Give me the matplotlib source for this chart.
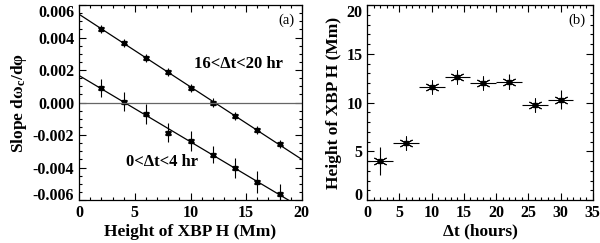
import numpy as np
import matplotlib
matplotlib.use("Agg")
import matplotlib.pyplot as plt
from matplotlib.ticker import MultipleLocator

plt.rcParams['font.family'] = 'Liberation Serif'
plt.rcParams['font.weight'] = 'bold'
plt.rcParams['mathtext.fontset'] = 'custom'
plt.rcParams['mathtext.rm'] = 'Liberation Serif:bold'
plt.rcParams['mathtext.it'] = 'Liberation Serif:bold:italic'

# panel (a): slope vs height
height = [2, 4, 6, 8, 10, 12, 14, 16, 18]
slope_late = [0.00455, 0.00367, 0.00275, 0.00188, 0.00092, 0.0, -0.00082, -0.00169, -0.00257]
err_late = [0.00025, 0.00025, 0.00025, 0.00025, 0.00025, 0.00025, 0.00025, 0.00025, 0.00025]
slope_early = [0.00088, 0.00006, -0.00072, -0.00185, -0.00236, -0.0032, -0.00404, -0.00489, -0.00564]
err_early = [0.00055, 0.0006, 0.0006, 0.0006, 0.0006, 0.00055, 0.0006, 0.00065, 0.0006]

# panel (b): height vs time
dt = [2, 6, 10, 14, 18, 22, 26, 30]
dt_err = [2, 2, 2, 2, 2, 2, 2, 2]
xbp_h = [4.0, 5.8, 11.6, 12.6, 12.05, 12.15, 9.7, 10.3]
xbp_err = [1.45, 0.65, 0.5, 0.5, 0.55, 0.75, 0.7, 1.0]

fig = plt.figure(figsize=(6, 2.43), dpi=100)
ax1 = fig.add_axes([0.132, 0.177, 0.371, 0.802])
ax2 = fig.add_axes([0.612, 0.177, 0.376, 0.802])

fs = 11.5

def style(ax):
    ax.tick_params(which='both', direction='in', top=True, right=True, labelsize=fs, width=0.8)
    ax.tick_params(which='major', length=5)
    ax.tick_params(which='minor', length=2.5)
    for s in ax.spines.values():
        s.set_linewidth(0.9)

def star(ax, x, y, ms):
    ax.plot(x, y, ls='none', marker=(6, 2, 0), ms=ms, mew=0.7, color='k')
    ax.plot(x, y, ls='none', marker='s', ms=2.5, color='k')

# (a)
xx = np.array([0, 20])
for y, e in [(slope_late, err_late), (slope_early, err_early)]:
    p = np.polyfit(height, y, 1)
    ax1.plot(xx, np.polyval(p, xx), color='k', lw=0.9)
    ax1.errorbar(height, y, yerr=e, fmt='none', ecolor='k', elinewidth=0.8)
    star(ax1, height, y, 5)
ax1.axhline(0, color='0.4', lw=0.9)
ax1.set_xlim(0, 20)
ax1.set_ylim(-0.006, 0.006)
ax1.xaxis.set_major_locator(MultipleLocator(5))
ax1.xaxis.set_minor_locator(MultipleLocator(1))
ax1.yaxis.set_major_locator(MultipleLocator(0.002))
ax1.yaxis.set_minor_locator(MultipleLocator(0.0005))
ax1.yaxis.set_major_formatter(lambda v, pos: '%.3f' % (0 if abs(v) < 1e-9 else v))
style(ax1)
ax1.set_xlabel('Height of XBP H (Mm)', fontsize=12.5, fontweight='bold', labelpad=2)
ax1.set_ylabel('Slope dω$_\\mathregular{c}$/dφ', fontsize=12.5, fontweight='bold', labelpad=3)
ax1.text(14.3, 0.00236, '16<Δt<20 hr', fontsize=12, fontweight='bold', ha='center', va='center')
ax1.text(7.45, -0.00368, '0<Δt<4 hr', fontsize=12, fontweight='bold', ha='center', va='center')
ax1.text(0.93, 0.92, '(a)', transform=ax1.transAxes, fontsize=10.5, fontweight='normal', ha='center', va='center')

# (b)
ax2.errorbar(dt, xbp_h, xerr=dt_err, yerr=xbp_err, fmt='none', ecolor='k', elinewidth=0.8)
star(ax2, dt, xbp_h, 10)
ax2.set_xlim(0, 35)
ax2.set_ylim(0, 20)
ax2.xaxis.set_major_locator(MultipleLocator(5))
ax2.xaxis.set_minor_locator(MultipleLocator(1))
ax2.yaxis.set_major_locator(MultipleLocator(5))
ax2.yaxis.set_minor_locator(MultipleLocator(1))
style(ax2)
ax2.set_xlabel('Δt (hours)', fontsize=12.5, fontweight='bold', labelpad=2)
ax2.set_ylabel('Height of XBP H (Mm)', fontsize=12.5, fontweight='bold', labelpad=3)
ax2.text(0.93, 0.92, '(b)', transform=ax2.transAxes, fontsize=10.5, fontweight='normal', ha='center', va='center')

fig.canvas.draw()
for ax in (ax1, ax2):
    lo, hi = ax.get_ylim()
    for lab in ax.get_xticklabels() + ax.get_yticklabels():
        lab.set_fontweight('bold')
    for t in ax.yaxis.get_major_ticks():
        if abs(t.get_loc() - lo) < 1e-9:
            t.label1.set_va('baseline')
        elif abs(t.get_loc() - hi) < 1e-9:
            t.label1.set_va('top')

fig.savefig('out.png', dpi=100)
